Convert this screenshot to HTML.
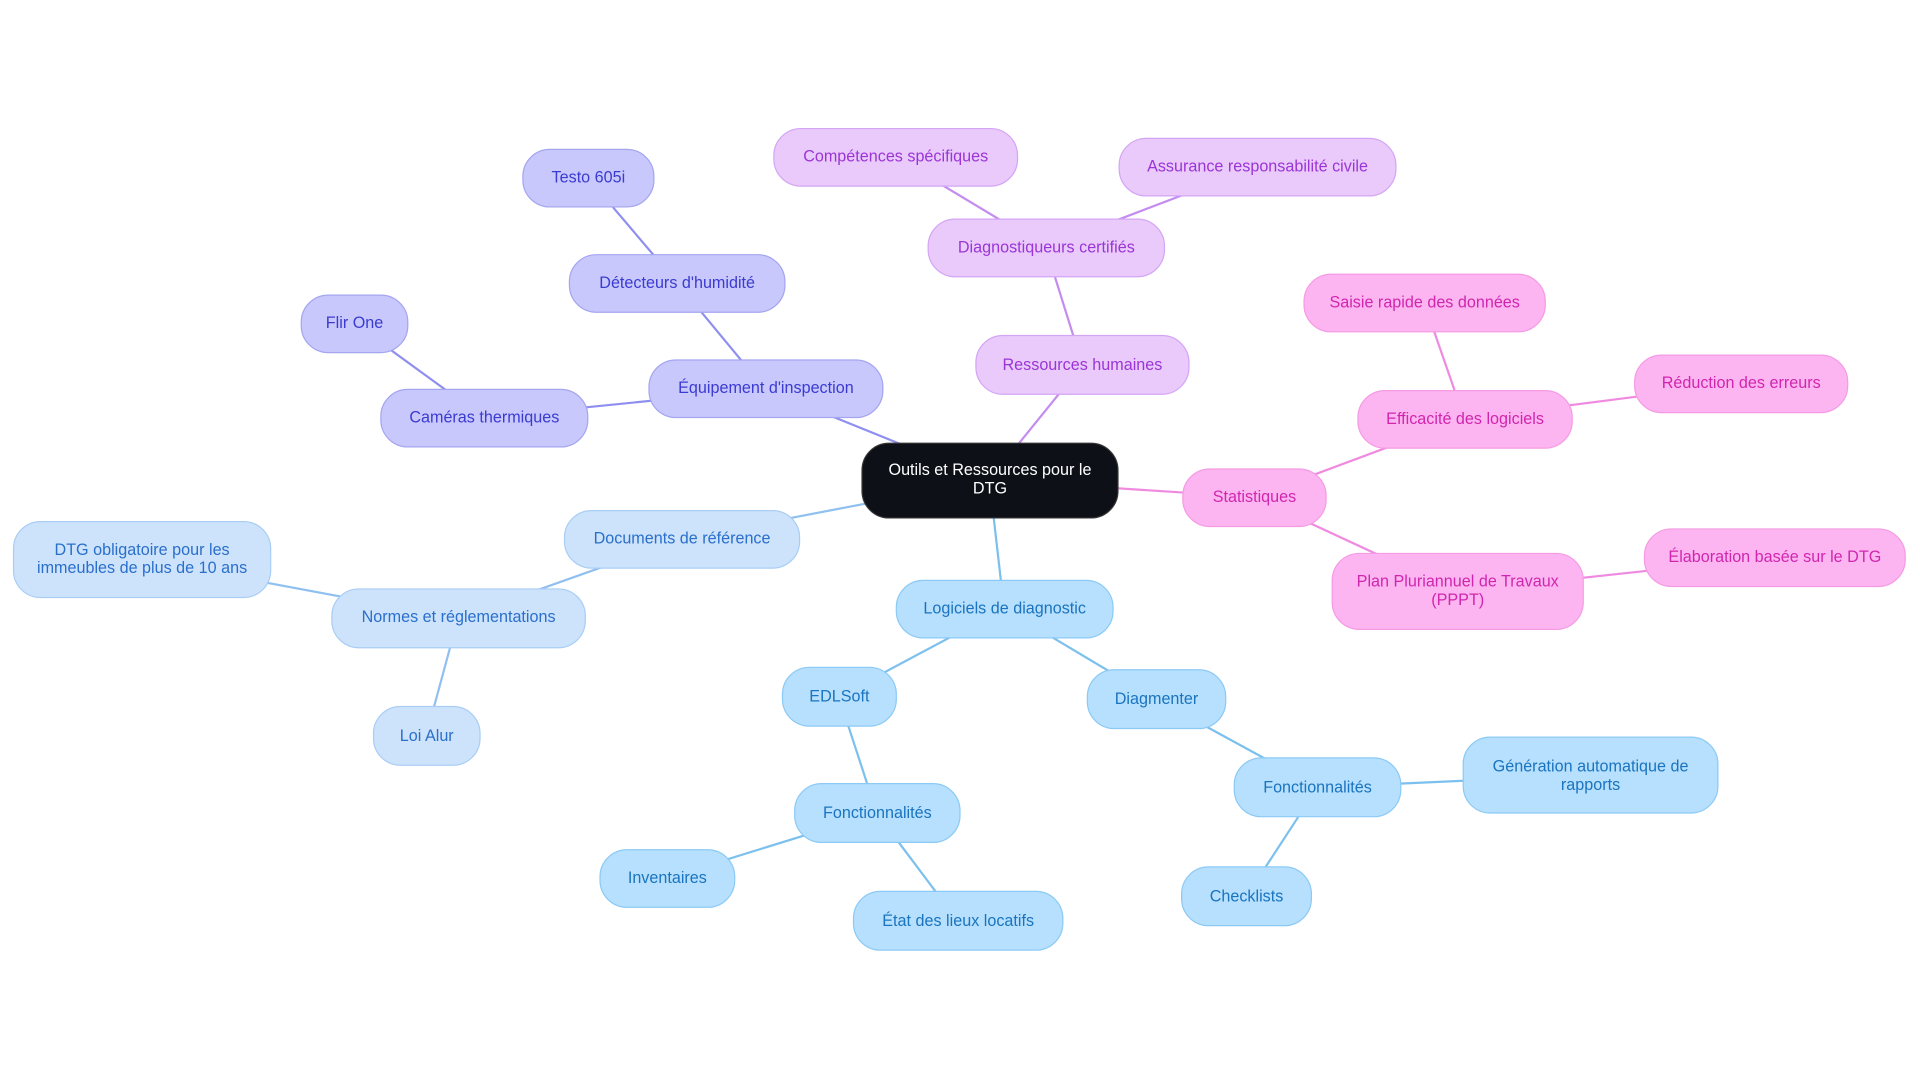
<!DOCTYPE html>
<html><head><meta charset="utf-8"><style>
html,body{margin:0;padding:0;background:#fff;width:1920px;height:1083px;overflow:hidden}
svg text{font-family:"Liberation Sans",sans-serif;font-size:13.2px;text-anchor:middle;dominant-baseline:central}
</style></head><body>
<svg width="1920" height="1083" viewBox="0 0 1568 884.5" xmlns="http://www.w3.org/2000/svg">
<g stroke-width="1.8" fill="none">
<g stroke="#8f8ff0">
<line x1="808" y1="392" x2="625" y2="318"/>
<line x1="625" y1="318" x2="553" y2="231"/>
<line x1="553" y1="231" x2="480" y2="145"/>
<line x1="625" y1="318" x2="395" y2="341"/>
<line x1="395" y1="341" x2="289" y2="264"/>
</g>
<g stroke="#c58cf0">
<line x1="808" y1="392" x2="884" y2="298"/>
<line x1="884" y1="298" x2="854" y2="202"/>
<line x1="854" y1="202" x2="731" y2="128"/>
<line x1="854" y1="202" x2="1027" y2="136"/>
</g>
<g stroke="#f08ae0">
<line x1="808" y1="392" x2="1024" y2="406"/>
<line x1="1024" y1="406" x2="1196" y2="342"/>
<line x1="1196" y1="342" x2="1163" y2="247"/>
<line x1="1196" y1="342" x2="1422" y2="313"/>
<line x1="1024" y1="406" x2="1190" y2="483"/>
<line x1="1190" y1="483" x2="1449" y2="455"/>
</g>
<g stroke="#90c0f0">
<line x1="808" y1="392" x2="557" y2="440"/>
<line x1="557" y1="440" x2="374" y2="505"/>
<line x1="374" y1="505" x2="116" y2="457"/>
<line x1="374" y1="505" x2="348" y2="601"/>
</g>
<g stroke="#7cc0ee">
<line x1="808" y1="392" x2="820" y2="497"/>
<line x1="820" y1="497" x2="685" y2="569"/>
<line x1="685" y1="569" x2="716" y2="664"/>
<line x1="716" y1="664" x2="545" y2="717"/>
<line x1="716" y1="664" x2="782" y2="752"/>
<line x1="820" y1="497" x2="944" y2="571"/>
<line x1="944" y1="571" x2="1076" y2="643"/>
<line x1="1076" y1="643" x2="1299" y2="633"/>
<line x1="1076" y1="643" x2="1018" y2="732"/>
</g>
</g>
<rect x="704" y="362" width="209" height="61" rx="22" fill="#0d1117" stroke="#333" stroke-width="1"/>
<text x="808.5" y="384" fill="#fff">Outils et Ressources pour le</text>
<text x="808.5" y="399" fill="#fff">DTG</text>
<g fill="#c8c8fc" stroke="#a5a5f0" stroke-width="1">
<rect x="530" y="294" width="191" height="47" rx="22"/>
<rect x="465" y="208" width="176" height="47" rx="22"/>
<rect x="427" y="122" width="107" height="47" rx="22"/>
<rect x="311" y="318" width="169" height="47" rx="22"/>
<rect x="246" y="241" width="87" height="47" rx="22"/>
</g>
<g fill="#3b3bd1">
<text x="625.5" y="317">Équipement d'inspection</text>
<text x="553" y="231">Détecteurs d'humidité</text>
<text x="480.5" y="145">Testo 605i</text>
<text x="395.5" y="341">Caméras thermiques</text>
<text x="289.5" y="264">Flir One</text>
</g>
<g fill="#e9cafb" stroke="#d4a5f5" stroke-width="1">
<rect x="797" y="274" width="174" height="48" rx="22"/>
<rect x="758" y="179" width="193" height="47" rx="22"/>
<rect x="632" y="105" width="199" height="47" rx="22"/>
<rect x="914" y="113" width="226" height="47" rx="22"/>
</g>
<g fill="#9b35d6">
<text x="884" y="298">Ressources humaines</text>
<text x="854.5" y="202">Diagnostiqueurs certifiés</text>
<text x="731.5" y="128">Compétences spécifiques</text>
<text x="1027" y="136">Assurance responsabilité civile</text>
</g>
<g fill="#fdb5f1" stroke="#f59be4" stroke-width="1">
<rect x="966" y="383" width="117" height="47" rx="22"/>
<rect x="1109" y="319" width="175" height="47" rx="22"/>
<rect x="1065" y="224" width="197" height="47" rx="22"/>
<rect x="1335" y="290" width="174" height="47" rx="22"/>
<rect x="1088" y="452" width="205" height="62" rx="22"/>
<rect x="1343" y="432" width="213" height="47" rx="22"/>
</g>
<g fill="#d026ae">
<text x="1024.5" y="406">Statistiques</text>
<text x="1196.5" y="342">Efficacité des logiciels</text>
<text x="1163.5" y="247">Saisie rapide des données</text>
<text x="1422" y="313">Réduction des erreurs</text>
<text x="1190.5" y="475">Plan Pluriannuel de Travaux</text>
<text x="1190.5" y="490">(PPPT)</text>
<text x="1449.5" y="455">Élaboration basée sur le DTG</text>
</g>
<g fill="#cde3fb" stroke="#a9cdf5" stroke-width="1">
<rect x="461" y="417" width="192" height="47" rx="22"/>
<rect x="271" y="481" width="207" height="48" rx="22"/>
<rect x="11" y="426" width="210" height="62" rx="22"/>
<rect x="305" y="577" width="87" height="48" rx="22"/>
</g>
<g fill="#2a6fcc">
<text x="557" y="440">Documents de référence</text>
<text x="374.5" y="504">Normes et réglementations</text>
<text x="116" y="449">DTG obligatoire pour les</text>
<text x="116" y="464">immeubles de plus de 10 ans</text>
<text x="348.5" y="601">Loi Alur</text>
</g>
<g fill="#b6e0fd" stroke="#8ccaf5" stroke-width="1">
<rect x="732" y="474" width="177" height="47" rx="22"/>
<rect x="639" y="545" width="93" height="48" rx="22"/>
<rect x="649" y="640" width="135" height="48" rx="22"/>
<rect x="490" y="694" width="110" height="47" rx="22"/>
<rect x="697" y="728" width="171" height="48" rx="22"/>
<rect x="888" y="547" width="113" height="48" rx="22"/>
<rect x="1008" y="619" width="136" height="48" rx="22"/>
<rect x="1195" y="602" width="208" height="62" rx="22"/>
<rect x="965" y="708" width="106" height="48" rx="22"/>
</g>
<g fill="#1a74bf">
<text x="820.5" y="497">Logiciels de diagnostic</text>
<text x="685.5" y="569">EDLSoft</text>
<text x="716.5" y="664">Fonctionnalités</text>
<text x="545" y="717">Inventaires</text>
<text x="782.5" y="752">État des lieux locatifs</text>
<text x="944.5" y="571">Diagmenter</text>
<text x="1076" y="643">Fonctionnalités</text>
<text x="1299" y="626">Génération automatique de</text>
<text x="1299" y="641">rapports</text>
<text x="1018" y="732">Checklists</text>
</g>
</svg>
</body></html>
